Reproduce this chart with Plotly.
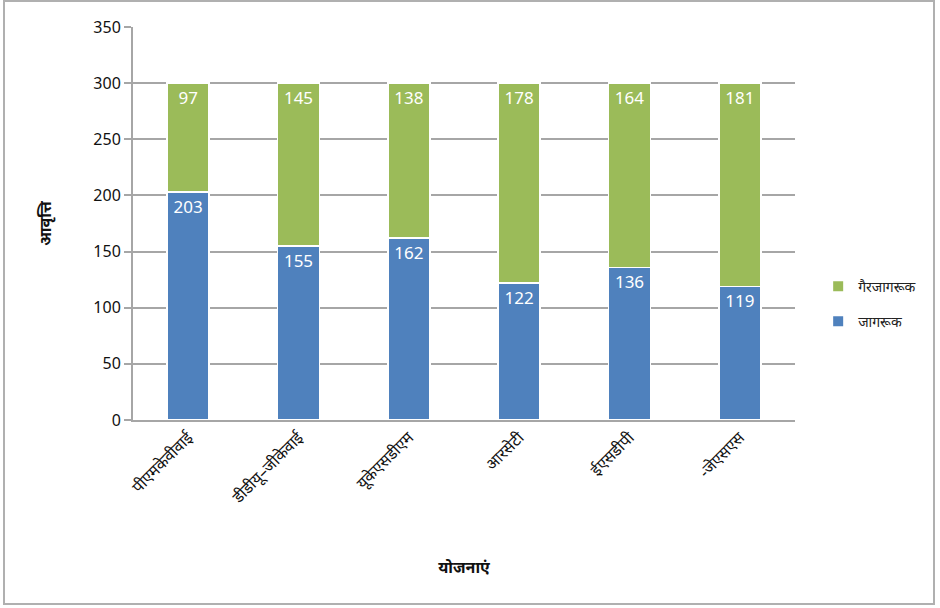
import plotly.graph_objects as go

categories = ["पीएमकेवीवाई", "डीडीयू–जीकेवाई", "यूकेएसडीएम", "आरसेटी", "ईएसडीपी", "-जेएसएस"]
aware = [203, 155, 162, 122, 136, 119]
unaware = [97, 145, 138, 178, 164, 181]
y_ticks = [0, 50, 100, 150, 200, 250, 300, 350]

BLUE = "#4f81bd"
GREEN = "#9bbb59"
FONT = "Noto Sans, DejaVu Sans, sans-serif"

fig = go.Figure()
fig.add_trace(go.Bar(
    x=categories, y=aware, name="जागरूक", legendgroup="a", legendrank=2,
    marker=dict(color=BLUE, line=dict(color="white", width=1.5)),
    text=[str(v) for v in aware], textposition="inside", insidetextanchor="end",
    textfont=dict(color="white", size=17, family=FONT), textangle=0,
))
fig.add_trace(go.Bar(
    x=categories, y=unaware, name="गैरजागरूक", legendgroup="b", legendrank=1,
    marker=dict(color=GREEN, line=dict(color="white", width=1.5)),
    text=[str(v) for v in unaware], textposition="inside", insidetextanchor="end",
    textfont=dict(color="white", size=17, family=FONT), textangle=0,
))

fig.update_layout(
    barmode="stack",
    bargap=0.62,
    width=940, height=608,
    margin=dict(l=133, r=145, t=27, b=188),
    paper_bgcolor="white", plot_bgcolor="white",
    font=dict(family=FONT, color="#222"),
    showlegend=True,
    legend=dict(x=1.035, y=0.295, yanchor="middle", xanchor="left",
                font=dict(size=14, family=FONT, color="#222"),
                traceorder="grouped", itemsizing="constant", tracegroupgap=14),
    uniformtext=dict(mode="show", minsize=17),
)
fig.update_yaxes(
    range=[0, 350], tickvals=y_ticks, showgrid=True, gridcolor="#a6a6a6", gridwidth=2,
    showline=True, linecolor="#a6a6a6", linewidth=2,
    ticks="outside", ticklen=7, tickcolor="#a6a6a6", tickwidth=2,
    tickfont=dict(size=16, color="#111", family=FONT),
    title=dict(text="<b>आवृत्ति</b>", font=dict(size=16, color="#111", family=FONT), standoff=38),
    zeroline=False,
)
fig.update_xaxes(
    tickangle=-45, tickfont=dict(size=16, color="#111", family=FONT),
    showline=True, linecolor="#a6a6a6", linewidth=2,
    title=dict(text="<b>योजनाएं</b>", font=dict(size=16, color="#111", family=FONT), standoff=55),
)
# outer frame
fig.add_shape(type="rect", xref="paper", yref="paper",
              x0=-129/662, x1=(934-133)/662, y0=-(605-421)/393, y1=(421-2)/393,
              line=dict(color="#b0b0b0", width=2), fillcolor="rgba(0,0,0,0)", layer="below")

fig.write_html("out.html")
